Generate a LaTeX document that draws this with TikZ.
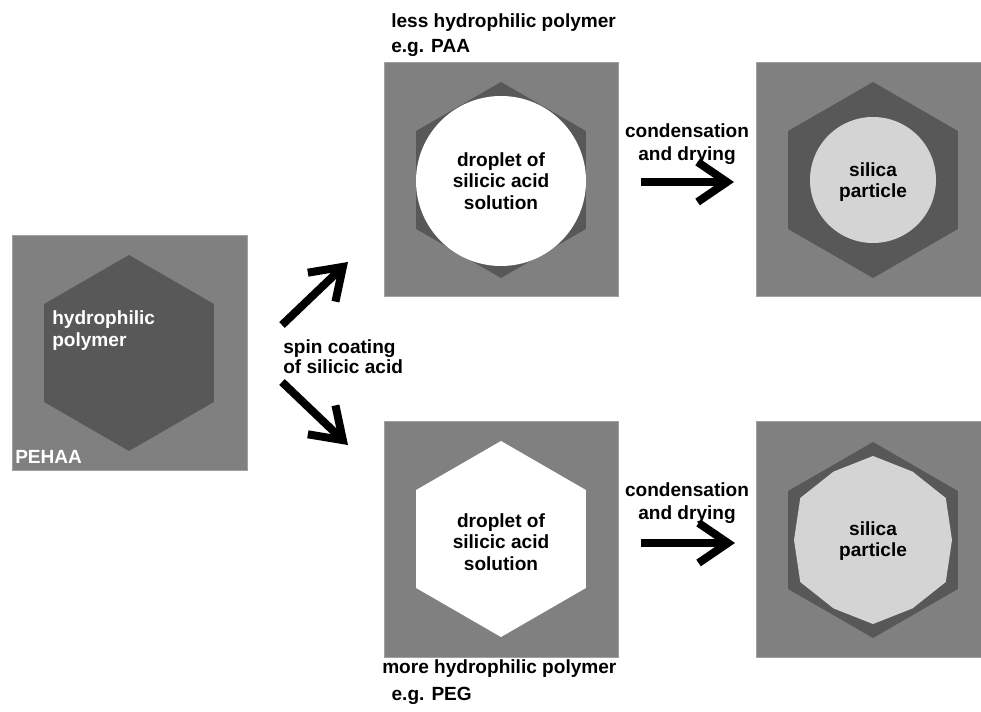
\documentclass[tikz,border=0pt]{standalone}
\usepackage{fontspec}
\setmainfont{Liberation Sans}
\usepackage{xcolor}
\usetikzlibrary{arrows.meta}
\usepackage{tikz}

\definecolor{boxgray}{RGB}{128,128,128}
\definecolor{hexgray}{RGB}{88,88,88}
\definecolor{silica}{RGB}{212,212,212}
\definecolor{edgegray}{RGB}{160,160,160}

\begin{document}
\begin{tikzpicture}[x=0.75pt, y=-0.75pt,
	box/.style={fill=boxgray, draw=edgegray, line width=0.75pt},
	txt/.style={font=\fontsize{14.3}{16}\selectfont\bfseries, inner sep=0pt, align=center},
	bigarrow/.style={line width=6pt, -{Straight Barb[length=22pt, width=30pt, sharp]}}]
	\useasboundingbox (0, 0) rectangle (981, 712);
	
	\draw[box] (12, 236) rectangle (247, 470);
	\draw[box] (384, 63) rectangle (618, 297);
	\draw[box] (756, 63) rectangle (981, 297);
	\draw[box] (384, 422) rectangle (618, 657);
	\draw[box] (756, 422) rectangle (981, 657);
	
	\fill[hexgray, shift={(129, 353)}] (90:98) \foreach \a in {150, 210, ..., 390} { -- (\a:98)} -- cycle;
	\fill[hexgray, shift={(501, 180)}] (90:98) \foreach \a in {150, 210, ..., 390} { -- (\a:98)} -- cycle;
	\fill[hexgray, shift={(873, 180)}] (90:98) \foreach \a in {150, 210, ..., 390} { -- (\a:98)} -- cycle;
	\fill[white, shift={(501, 539)}] (90:98) \foreach \a in {150, 210, ..., 390} { -- (\a:98)} -- cycle;
	\fill[hexgray, shift={(873, 540)}] (90:98) \foreach \a in {150, 210, ..., 390} { -- (\a:98)} -- cycle;
	
	\fill[white] (501, 181) circle[radius=85];
	\fill[silica] (873, 180) circle[radius=63];
	\fill[silica, shift={(873, 540)}] (0:79) \foreach \a in {0, 60, ..., 300} { -- (\a:79) -- (\a+30:84)} -- cycle;
	
	\node[txt, text=white, align=left, anchor=west, font=\fontsize{14.3}{16.5}\selectfont\bfseries] (hydro) at (52, 331) {hydrophilic\\polymer};
	\node[txt, text=white, anchor=west] (pehaa) at (15, 457) {PEHAA};
	
	\node[txt, align=left, anchor=west, font=\fontsize{14.3}{18.75}\selectfont\bfseries] (less) at (391, 35.5) {less hydrophilic polymer\\e.g. PAA};
	\node[txt, align=left, anchor=west, font=\fontsize{14.3}{20}\selectfont\bfseries] (more) at (382, 682) {more hydrophilic polymer\\\hspace*{7pt}e.g. PEG};
	
	\node[txt] (drop1) at (501, 181) {droplet of\\silicic acid\\solution};
	\node[txt] (drop2) at (501, 542) {droplet of\\silicic acid\\solution};
	\node[txt] (silica1) at (873, 182) {silica\\particle};
	\node[txt] (silica2) at (873, 541) {silica\\particle};
	
	\node[txt, font=\fontsize{14.3}{17.25}\selectfont\bfseries] (cond1) at (687, 144) {condensation\\and drying};
	\node[txt, font=\fontsize{14.3}{17.25}\selectfont\bfseries] (cond2) at (687, 503) {condensation\\and drying};
	\node[txt, align=left, anchor=west, font=\fontsize{14.3}{15}\selectfont\bfseries] (spin) at (283, 357) {spin coating\\of silicic acid};
	
	\coordinate (up1) at (282, 325);
	\coordinate (up2) at (348, 262);
	\coordinate (down1) at (282, 382);
	\coordinate (down2) at (348, 445);
	\coordinate (top1) at (641, 182);
	\coordinate (top2) at (734, 182);
	\coordinate (bot1) at (641, 543);
	\coordinate (bot2) at (735, 543);
	
	\draw[bigarrow] (up1) -- (up2);
	\draw[bigarrow] (down1) -- (down2);
	\draw[bigarrow] (top1) -- (top2);
	\draw[bigarrow] (bot1) -- (bot2);
\end{tikzpicture}
\end{document}
